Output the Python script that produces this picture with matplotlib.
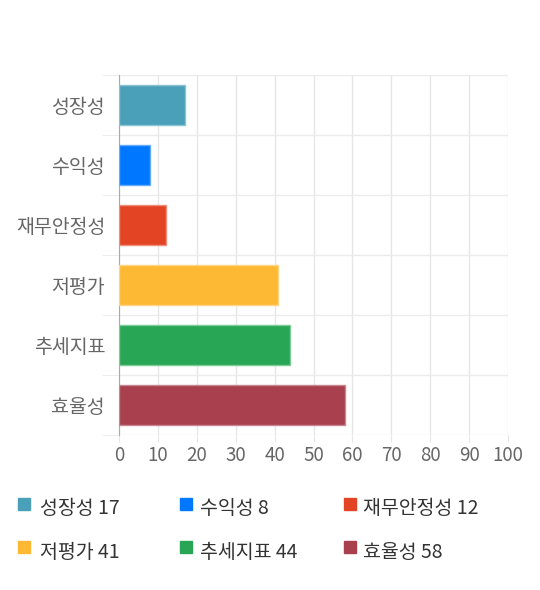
import matplotlib.pyplot as plt
from matplotlib.patches import Rectangle

plt.rcParams['font.family'] = ['Noto Sans CJK KR', 'DejaVu Sans']

categories = ['성장성', '수익성', '재무안정성', '저평가', '추세지표', '효율성']
scores = [17, 8, 12, 41, 44, 58]
colors = ['#4aa0b9', '#0077ff', '#e34424', '#fdb933', '#28a655', '#a8404e']
edges = ['#8cc3d3', '#66adff', '#ee8f7c', '#fdd585', '#7ccb98', '#c88790']

fig = plt.figure(figsize=(5.4, 5.9), dpi=100)
ax = fig.add_axes([119 / 540, 1 - 435 / 590, 389 / 540, 360 / 590])

y = list(range(len(categories)))
ax.barh(y, scores, height=0.68, color=colors, edgecolor=edges, linewidth=1, zorder=3)

ax.set_xlim(0, 100)
ax.set_ylim(len(categories) - 0.5, -0.5)
ax.set_xticks(range(0, 101, 10))
ax.set_yticks(y)
ax.set_yticklabels(categories)
ax.set_yticks([i - 0.5 for i in range(len(categories) + 1)], minor=True)

ax.grid(axis='x', color='#e6e6e6', linewidth=1, zorder=0)
ax.grid(axis='y', which='minor', color='#ebebeb', linewidth=1, zorder=0)

for s in ['top', 'right', 'bottom']:
    ax.spines[s].set_visible(False)
ax.spines['left'].set_color('#aaaaaa')
ax.spines['left'].set_linewidth(0.8)

ax.tick_params(axis='x', length=5, color='#e6e6e6', labelsize=13.5, labelcolor='#666666', pad=2)
ax.tick_params(axis='y', which='major', length=0, labelsize=14, labelcolor='#666666', pad=10)
ax.tick_params(axis='y', which='minor', length=12, color='#ebebeb')

# legend
sq_x = [18, 180, 344]
txt_x = [40, 200, 363]
row_y = [509, 552]
for i, (name, val, c) in enumerate(zip(categories, scores, colors)):
    col = i % 3
    py = row_y[i // 3]
    fig.patches.append(Rectangle((sq_x[col] / 540, 1 - (py + 1) / 590), 12 / 540, 12 / 590,
                                 transform=fig.transFigure, color=c))
    fig.text(txt_x[col] / 540, 1 - py / 590, f'{name} {val}', fontsize=14,
             color='#333333', va='center')

fig.savefig('out.png')
